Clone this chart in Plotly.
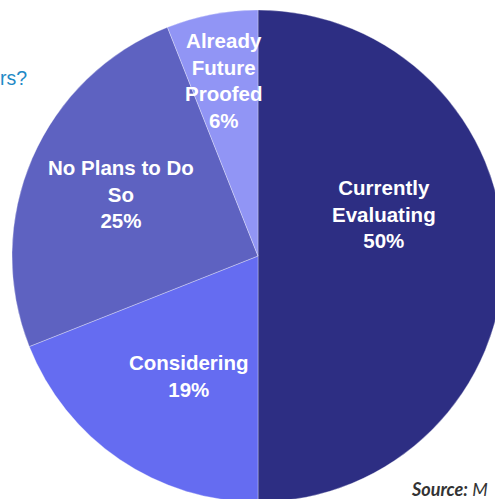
import math
import plotly.graph_objects as go

labels = ["Currently<br>Evaluating", "Considering", "No Plans to Do<br>So", "Already<br>Future<br>Proofed"]
values = [50, 19, 25, 6]
colors = ["#2D2E83", "#656CF1", "#5E62C1", "#9195F5"]

# label placement style (angle nudge in degrees, radial fraction)
label_nudge = [-18.4, -4.3, 1.1, -0.4]
label_radius = [0.54, 0.563, 0.612, 0.729]

W, H = 516, 512
cx, cy, r = 258, 256, 246

fig = go.Figure(go.Pie(
    labels=labels,
    values=values,
    sort=False,
    direction="clockwise",
    rotation=0,
    marker=dict(colors=colors, line=dict(color="rgba(255,255,255,0.45)", width=0.7)),
    textinfo="none",
    showlegend=False,
    hoverinfo="skip",
    domain=dict(x=[(cx - r) / W, (cx + r) / W], y=[(H - cy - r) / H, (H - cy + r) / H]),
))

annotations = []
total = sum(values)
cum = 0
for lab, v, dn, rf in zip(labels, values, label_nudge, label_radius):
    mid = (cum + v / 2) / total * 360 + dn
    cum += v
    px = cx + rf * r * math.sin(math.radians(mid))
    py = cy - rf * r * math.cos(math.radians(mid))
    annotations.append(dict(
        text=f"<b>{lab}<br>{round(v / total * 100)}%</b>",
        x=px / W, y=1 - py / H, xref="paper", yref="paper",
        xanchor="center", yanchor="middle", showarrow=False, align="center",
        font=dict(family="Liberation Sans, Arial, sans-serif", size=20.5, color="white"),
    ))

annotations += [
    dict(text="rs?", x=-0.004, y=1 - 78 / H, xref="paper", yref="paper",
         xanchor="left", yanchor="middle", showarrow=False,
         font=dict(family="Liberation Sans, Arial, sans-serif", size=19.5, color="#1F8AC6")),
    dict(text="<b><i>Source:</i></b><i> M</i>", x=409 / W, y=1 - 489 / H, xref="paper", yref="paper",
         xanchor="left", yanchor="middle", showarrow=False,
         font=dict(family="Lato, sans-serif", size=18, color="#333333")),
]

fig.update_layout(
    width=W, height=H,
    margin=dict(l=0, r=0, t=0, b=0),
    paper_bgcolor="white",
    plot_bgcolor="white",
    annotations=annotations,
)

fig.write_html("out.html", post_script="document.documentElement.style.overflow='hidden';document.body.style.overflow='hidden';")
